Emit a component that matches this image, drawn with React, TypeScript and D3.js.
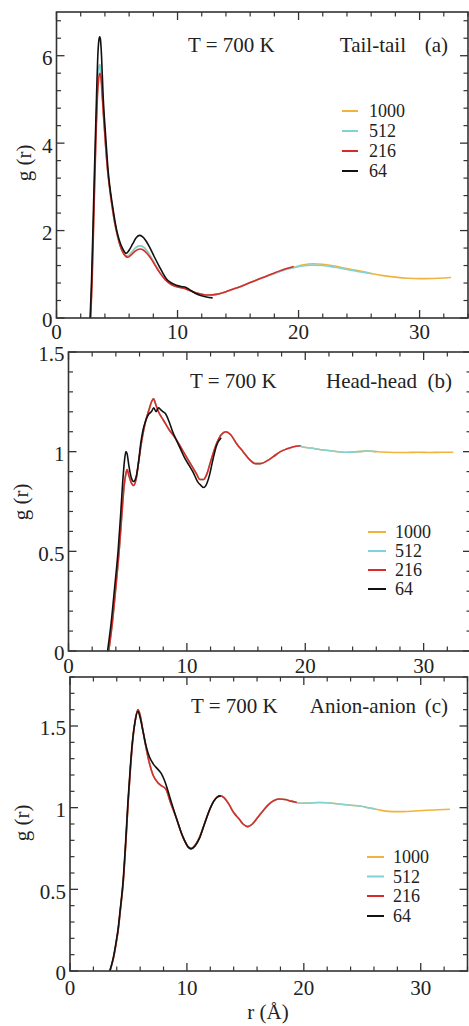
import React from "react";
import * as d3 from "d3";

type Pt = [number, number];

const SIZES = ["1000", "512", "216", "64"];
const COLORS = ["#f2b33d", "#7fd3d6", "#d92b2b", "#111111"];
const X_TICKS = [0, 10, 20, 30];

// ---------- Panel (a) Tail-tail ----------
const A_64: Pt[] = [
  [2.78, 0], [2.9, 0.9], [3.0, 1.92], [3.1, 3.0], [3.22, 4.2], [3.32, 5.2], [3.41, 5.98], [3.5, 6.35],
  [3.57, 6.43], [3.64, 6.35], [3.72, 6.0], [3.85, 5.1], [4.05, 4.2], [4.2, 3.6], [4.32, 3.21], [4.48, 2.85],
  [4.65, 2.53], [4.8, 2.27], [4.98, 2.0], [5.2, 1.77], [5.48, 1.58], [5.76, 1.48], [6.0, 1.55], [6.3, 1.7],
  [6.6, 1.84], [6.86, 1.89], [7.1, 1.86], [7.4, 1.76], [7.69, 1.62], [8.1, 1.39], [8.51, 1.17], [8.8, 1.02],
  [9.07, 0.9], [9.5, 0.8], [9.9, 0.75], [10.3, 0.72], [10.7, 0.7], [11.1, 0.63], [11.5, 0.56], [12.0, 0.51],
  [12.4, 0.48], [12.9, 0.46],
];
const A_216: Pt[] = [
  [2.82, 0], [2.95, 0.9], [3.05, 1.92], [3.15, 3.0], [3.27, 4.2], [3.38, 5.05], [3.48, 5.45], [3.58, 5.6],
  [3.67, 5.5], [3.76, 5.15], [3.9, 4.55], [4.08, 3.85], [4.25, 3.3], [4.4, 2.95], [4.6, 2.55], [4.8, 2.2],
  [5.0, 1.93], [5.25, 1.66], [5.55, 1.47], [5.9, 1.39], [6.2, 1.45], [6.5, 1.53], [6.9, 1.58], [7.2, 1.55],
  [7.5, 1.47], [7.8, 1.36], [8.2, 1.18], [8.6, 1.01], [9.0, 0.87], [9.5, 0.76], [10.0, 0.71], [10.5, 0.68],
  [11.0, 0.63], [11.5, 0.58], [12.0, 0.545], [12.6, 0.525], [13.2, 0.54], [14.0, 0.6], [14.5, 0.65],
  [15.0, 0.7], [16.0, 0.81], [17.0, 0.92], [18.0, 1.03], [19.0, 1.13], [19.6, 1.18],
];
const A_512: Pt[] = [
  [2.8, 0], [2.93, 0.9], [3.03, 1.92], [3.13, 3.0], [3.25, 4.2], [3.36, 5.1], [3.46, 5.6], [3.56, 5.8],
  [3.65, 5.7], [3.75, 5.3], [3.88, 4.7], [4.06, 3.95], [4.22, 3.4], [4.38, 3.0], [4.58, 2.58], [4.78, 2.22],
  [4.98, 1.95], [5.22, 1.7], [5.5, 1.5], [5.85, 1.42], [6.2, 1.5], [6.5, 1.6], [6.9, 1.65], [7.2, 1.62],
  [7.5, 1.53], [7.8, 1.4], [8.2, 1.2], [8.6, 1.02], [9.0, 0.88], [9.5, 0.77], [10.0, 0.72], [10.5, 0.69],
  [11.0, 0.63], [11.5, 0.58], [12.0, 0.545], [12.6, 0.525], [13.2, 0.54], [14.0, 0.6], [14.5, 0.65],
  [15.0, 0.7], [16.0, 0.81], [17.0, 0.92], [18.0, 1.02], [19.0, 1.11], [19.6, 1.15], [20.3, 1.19],
  [21.1, 1.21], [22.0, 1.2], [23.0, 1.16], [24.0, 1.11], [25.0, 1.06], [26.1, 1.01],
];
const A_1000: Pt[] = [
  [2.8, 0], [2.93, 0.9], [3.03, 1.92], [3.13, 3.0], [3.25, 4.2], [3.36, 5.1], [3.46, 5.6], [3.56, 5.8],
  [3.65, 5.7], [3.75, 5.3], [3.88, 4.7], [4.06, 3.95], [4.22, 3.4], [4.38, 3.0], [4.58, 2.58], [4.78, 2.22],
  [4.98, 1.95], [5.22, 1.7], [5.5, 1.5], [5.85, 1.42], [6.2, 1.5], [6.5, 1.6], [6.9, 1.65], [7.2, 1.62],
  [7.5, 1.53], [7.8, 1.4], [8.2, 1.2], [8.6, 1.02], [9.0, 0.88], [9.5, 0.77], [10.0, 0.72], [10.5, 0.69],
  [11.0, 0.63], [11.5, 0.58], [12.0, 0.545], [12.6, 0.525], [13.2, 0.54], [14.0, 0.6], [14.5, 0.65],
  [15.0, 0.7], [16.0, 0.81], [17.0, 0.92], [18.0, 1.02], [19.0, 1.12], [19.6, 1.16], [20.3, 1.21],
  [21.2, 1.24], [22.0, 1.23], [23.0, 1.19], [24.0, 1.13], [25.0, 1.08], [26.0, 1.02], [27.0, 0.97],
  [28.0, 0.935], [29.0, 0.91], [30.0, 0.9], [31.0, 0.905], [32.0, 0.915], [32.6, 0.925],
];

// ---------- Panel (b) Head-head ----------
const B_64: Pt[] = [
  [3.3, 0], [3.6, 0.14], [3.9, 0.32], [4.2, 0.51], [4.4, 0.68], [4.57, 0.84], [4.72, 0.95], [4.85, 1.0],
  [4.95, 0.99], [5.1, 0.93], [5.3, 0.87], [5.5, 0.85], [5.7, 0.87], [5.9, 0.94], [6.1, 1.04], [6.3, 1.11],
  [6.55, 1.16], [6.8, 1.19], [7.0, 1.2], [7.2, 1.22], [7.4, 1.2], [7.6, 1.22], [7.8, 1.21], [8.0, 1.2],
  [8.2, 1.19], [8.5, 1.15], [8.8, 1.1], [9.1, 1.06], [9.41, 1.02], [9.8, 0.97], [10.2, 0.93], [10.5, 0.9],
  [10.9, 0.85], [11.2, 0.83], [11.4, 0.82], [11.6, 0.83], [11.9, 0.88], [12.2, 0.96], [12.5, 1.03], [12.9, 1.07],
];
const B_216: Pt[] = [
  [3.4, 0], [3.7, 0.14], [4.0, 0.32], [4.3, 0.52], [4.5, 0.68], [4.7, 0.83], [4.85, 0.89], [4.95, 0.91],
  [5.1, 0.88], [5.3, 0.845], [5.5, 0.83], [5.7, 0.86], [5.95, 0.96], [6.2, 1.06], [6.5, 1.15], [6.8, 1.21],
  [7.05, 1.255], [7.2, 1.265], [7.35, 1.24], [7.6, 1.2], [8.0, 1.16], [8.5, 1.11], [9.0, 1.07], [9.41, 1.03],
  [9.8, 0.99], [10.2, 0.95], [10.5, 0.92], [10.8, 0.89], [11.1, 0.86], [11.4, 0.86], [11.7, 0.89], [12.0, 0.95],
  [12.5, 1.04], [12.9, 1.085], [13.3, 1.1], [13.7, 1.085], [14.2, 1.04], [14.75, 1.0], [15.3, 0.96],
  [15.8, 0.94], [16.2, 0.94], [16.8, 0.955], [17.3, 0.975], [17.9, 1.0], [18.4, 1.013], [19.0, 1.025], [19.6, 1.03],
];
const B_512_TAIL: Pt[] = [
  [19.7, 1.025], [20.5, 1.018], [21.3, 1.01], [22.1, 1.005], [23.0, 0.998], [23.5, 0.997], [24.5, 1.0],
  [25.3, 1.003], [26.0, 1.0],
];
const B_1000_TAIL: Pt[] = [
  [26.5, 0.998], [27.5, 0.996], [28.5, 0.996], [29.5, 0.997], [30.5, 0.996], [31.5, 0.997], [32.5, 0.997],
];
const B_512: Pt[] = [...B_216, ...B_512_TAIL];
const B_1000: Pt[] = [...B_216, ...B_512_TAIL, ...B_1000_TAIL];

// ---------- Panel (c) Anion-anion ----------
const C_64: Pt[] = [
  [3.4, 0], [3.7, 0.08], [3.95, 0.18], [4.1, 0.25], [4.3, 0.38], [4.54, 0.55], [4.75, 0.78], [4.96, 1.04],
  [5.15, 1.24], [5.33, 1.4], [5.55, 1.52], [5.8, 1.59], [6.0, 1.55], [6.24, 1.47], [6.5, 1.38], [6.8, 1.31],
  [7.1, 1.27], [7.5, 1.236], [7.8, 1.21], [8.2, 1.144], [8.6, 1.05], [9.08, 0.94], [9.5, 0.85], [9.79, 0.8],
  [10.1, 0.76], [10.36, 0.748], [10.7, 0.765], [11.06, 0.81], [11.5, 0.9], [11.9, 0.98], [12.3, 1.04],
  [12.6, 1.065], [12.9, 1.072],
];
const C_216: Pt[] = [
  [3.42, 0], [3.72, 0.08], [3.97, 0.18], [4.12, 0.25], [4.32, 0.38], [4.56, 0.55], [4.77, 0.78], [4.98, 1.04],
  [5.17, 1.24], [5.35, 1.4], [5.57, 1.53], [5.82, 1.6], [6.02, 1.56], [6.24, 1.47], [6.5, 1.37], [6.8, 1.27],
  [7.1, 1.2], [7.5, 1.154], [7.8, 1.135], [8.2, 1.114], [8.6, 1.03], [9.08, 0.94], [9.5, 0.85], [9.79, 0.8],
  [10.1, 0.76], [10.36, 0.75], [10.7, 0.77], [11.06, 0.815], [11.5, 0.9], [11.9, 0.98], [12.3, 1.04],
  [12.82, 1.073], [13.2, 1.06], [13.6, 1.02], [14.0, 0.97], [14.47, 0.93], [14.8, 0.9], [15.2, 0.884],
  [15.6, 0.9], [16.0, 0.935], [16.5, 0.98], [17.0, 1.02], [17.5, 1.045], [17.9, 1.053], [18.4, 1.05],
  [18.9, 1.04], [19.4, 1.032],
];
const C_512_TAIL: Pt[] = [
  [19.7, 1.027], [20.5, 1.028], [21.3, 1.032], [22.0, 1.03], [23.0, 1.022], [24.0, 1.015], [24.8, 1.01],
  [25.5, 1.0], [26.1, 0.992],
];
const C_1000_TAIL: Pt[] = [
  [26.5, 0.985], [27.0, 0.979], [27.5, 0.976], [28.5, 0.976], [29.5, 0.98], [30.5, 0.984], [31.5, 0.987],
  [32.5, 0.99],
];
const C_512: Pt[] = [...C_216, ...C_512_TAIL];
const C_1000: Pt[] = [...C_216, ...C_512_TAIL, ...C_1000_TAIL];

const PANEL_NAMES = ["Tail-tail", "Head-head", "Anion-anion"];
const PANEL_TAGS = ["(a)", "(b)", "(c)"];
const Y_MAX = [7, 1.5, 1.8];
const Y_MAJOR = [[0, 2, 4, 6], [0, 0.5, 1, 1.5], [0, 0.5, 1, 1.5]];
const Y_MINOR_STEP = [0.4, 0.1, 0.1];
const SERIES = [
  [A_1000, A_512, A_216, A_64],
  [B_1000, B_512, B_216, B_64],
  [C_1000, C_512, C_216, C_64],
];

// layout (pixels)
const LAYOUT = [
  { left: 56.5, right: 468, top: 12, bottom: 318, xLabY: 339, titleY: 52, tX: 188, nameEnd: 406, tagEnd: 448,
    legX1: 342, legX2: 358, legTX: 369, legY: [111, 131, 151, 171], yLab: [31, 163] },
  { left: 68.5, right: 471, top: 352, bottom: 651, xLabY: 673, titleY: 388, tX: 190, nameEnd: 417, tagEnd: 452,
    legX1: 368, legX2: 386, legTX: 395, legY: [532, 551, 570, 589], yLab: [28, 502] },
  { left: 70, right: 467.5, top: 677, bottom: 971, xLabY: 995, titleY: 713, tX: 191, nameEnd: 416, tagEnd: 448,
    legX1: 367, legX2: 384, legTX: 393, legY: [857, 876.5, 896, 916], yLab: [29, 823] },
];

const FONT = "'Liberation Serif', 'Times New Roman', serif";
const AXIS = "#333";

function Panel({ idx }: { idx: number }) {
  const L = LAYOUT[idx];
  const x = d3.scaleLinear().domain([0, 34]).range([L.left, L.right]);
  const y = d3.scaleLinear().domain([0, Y_MAX[idx]]).range([L.bottom, L.top]);
  const line = d3
    .line<Pt>()
    .x((d) => x(d[0]))
    .y((d) => y(d[1]))
    .curve(d3.curveMonotoneX);

  const xMinor: number[] = [];
  for (let i = 0; i * 2 <= 34; i++) if (i % 5 !== 0) xMinor.push(i * 2);
  const yMinor: number[] = [];
  const st = Y_MINOR_STEP[idx];
  for (let i = 0; i * st <= Y_MAX[idx] + 1e-9; i++) if (i % 5 !== 0) yMinor.push(i * st);

  const MJ = 8;
  const MN = 4.5;
  const clipId = `clip${idx}`;
  const fmt = (v: number) => String(v);

  return (
    <g>
      <defs>
        <clipPath id={clipId}>
          <rect x={L.left} y={L.top} width={L.right - L.left} height={L.bottom - L.top} />
        </clipPath>
      </defs>
      <g clipPath={`url(#${clipId})`}>
        {SERIES[idx].map((s, k) => (
          <path key={k} d={line(s) || ""} fill="none" stroke={COLORS[k]} strokeWidth={1.6} strokeLinejoin="round" />
        ))}
      </g>
      <rect x={L.left} y={L.top} width={L.right - L.left} height={L.bottom - L.top} fill="none" stroke={AXIS} strokeWidth={1.6} />
      {X_TICKS.map((t) => (
        <g key={`xm${t}`} stroke={AXIS} strokeWidth={1.3}>
          <line x1={x(t)} x2={x(t)} y1={L.bottom} y2={L.bottom - MJ} />
          <line x1={x(t)} x2={x(t)} y1={L.top} y2={L.top + MJ} />
        </g>
      ))}
      {xMinor.map((t) => (
        <g key={`xn${t}`} stroke={AXIS} strokeWidth={1.2}>
          <line x1={x(t)} x2={x(t)} y1={L.bottom} y2={L.bottom - MN} />
          <line x1={x(t)} x2={x(t)} y1={L.top} y2={L.top + MN} />
        </g>
      ))}
      {Y_MAJOR[idx].map((t) => (
        <g key={`ym${t}`} stroke={AXIS} strokeWidth={1.3}>
          <line x1={L.left} x2={L.left + MJ} y1={y(t)} y2={y(t)} />
          <line x1={L.right} x2={L.right - MJ} y1={y(t)} y2={y(t)} />
        </g>
      ))}
      {yMinor.map((t, i) => (
        <g key={`yn${i}`} stroke={AXIS} strokeWidth={1.2}>
          <line x1={L.left} x2={L.left + MN} y1={y(t)} y2={y(t)} />
          <line x1={L.right} x2={L.right - MN} y1={y(t)} y2={y(t)} />
        </g>
      ))}
      {X_TICKS.map((t) => (
        <text key={`xl${t}`} x={x(t)} y={L.xLabY} textAnchor="middle" fontSize={21} fill="#222">
          {fmt(t)}
        </text>
      ))}
      {Y_MAJOR[idx].map((t) => (
        <text key={`yl${t}`} x={L.left - 4} y={y(t)} dy="0.45em" textAnchor="end" fontSize={21} fill="#222">
          {fmt(t)}
        </text>
      ))}
      <text transform={`translate(${L.yLab[0]},${L.yLab[1]}) rotate(-90)`} textAnchor="middle" fontSize={21} fill="#222">
        g (r)
      </text>
      <text x={L.tX} y={L.titleY} fontSize={21} fill="#222">T = 700 K</text>
      <text x={L.nameEnd} y={L.titleY} fontSize={21} fill="#222" textAnchor="end">{PANEL_NAMES[idx]}</text>
      <text x={L.tagEnd} y={L.titleY} fontSize={21} fill="#222" textAnchor="end">{PANEL_TAGS[idx]}</text>
      {SIZES.map((s, k) => (
        <g key={`lg${s}`}>
          <line x1={L.legX1} x2={L.legX2} y1={L.legY[k]} y2={L.legY[k]} stroke={COLORS[k]} strokeWidth={2} />
          <text x={L.legTX} y={L.legY[k]} dy="0.35em" fontSize={18} fill="#222">{s}</text>
        </g>
      ))}
    </g>
  );
}

export default function App() {
  return (
    <svg
      width={469}
      height={1026}
      viewBox="0 0 469 1026"
      style={{ position: "absolute", left: 0, top: 0, display: "block", background: "#fff" }}
      fontFamily={FONT}
    >
      <rect x={0} y={0} width={469} height={1026} fill="#fff" />
      {[0, 1, 2].map((i) => (
        <Panel key={i} idx={i} />
      ))}
      <text x={268} y={1019} textAnchor="middle" fontSize={21} fill="#222">r (Å)</text>
    </svg>
  );
}
